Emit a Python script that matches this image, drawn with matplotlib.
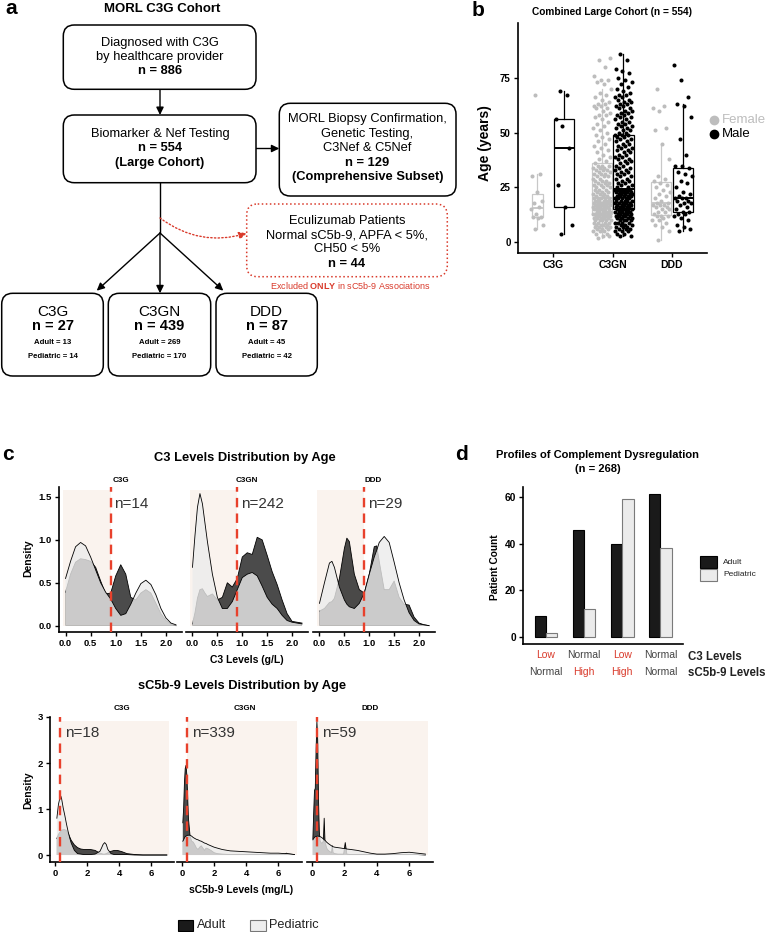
import numpy as np
import matplotlib
matplotlib.use('Agg')
import matplotlib.pyplot as plt
from matplotlib.patches import FancyBboxPatch, Rectangle

plt.rcParams['font.family'] = ['Liberation Sans', 'DejaVu Sans']
plt.rcParams['mathtext.fontset'] = 'custom'
plt.rcParams['mathtext.rm'] = 'Liberation Sans'
plt.rcParams['mathtext.bf'] = 'Liberation Sans:bold'

# ======================= DATA =======================
# Panel a (flowchart)
flow_top_n = 886
flow_large_n = 554
flow_subset_n = 129
flow_ecu_n = 44
subtypes = ['C3G', 'C3GN', 'DDD']
subtype_n = [27, 439, 87]
subtype_adult = [13, 269, 45]
subtype_ped = [14, 170, 42]

# Panel b (ages, years)
c3g_female = [6, 8, 11, 11.5, 11.5, 13, 15, 16, 18, 19, 23, 30, 31, 67]
c3g_male = [4, 8, 16, 26, 43, 53, 56, 67, 69]
c3gn_female = [2, 3, 3, 4, 4, 5, 5, 5, 6, 6, 6, 7, 7, 7, 7, 8, 8, 8, 8, 9, 9, 9, 9, 10, 10, 10, 10, 10,
               11, 11, 11, 11, 11, 12, 12, 12, 12, 12, 12, 13, 13, 13, 13, 13, 13,
               13, 14, 14, 14, 14, 14, 14, 15, 15, 15, 15, 15, 15, 15, 16, 16, 16, 16, 16, 16,
               17, 17, 17, 17, 17, 17, 17, 18, 18, 18, 18, 18, 18, 18, 19, 19, 19, 19, 19, 19, 19, 20, 20, 20, 20,
               20, 21, 21, 21, 22, 22, 22, 23, 23, 23, 24, 24, 24, 25, 25, 25, 26, 26, 26, 27, 27, 27,
               28, 28, 28, 29, 29, 30, 30, 30, 31, 31, 31, 32, 32, 33, 33, 33, 34, 34, 34, 35, 35, 35, 36,
               37, 38, 39, 40, 41, 42, 43, 44, 45, 46, 47, 48, 49, 50, 51, 52, 53, 54, 55, 56, 57, 58, 58,
               59, 60, 61, 61, 62, 62, 63, 63, 64, 65, 66, 67, 68, 70, 72, 73, 74, 74, 76, 80, 83, 84]
c3gn_male = [3, 3, 4, 4, 5, 5, 5, 6, 6, 6, 7, 7, 7, 8, 8, 8, 9, 9, 9, 9, 10, 10, 10, 10, 11, 11, 11, 11,
             12, 12, 12, 12, 12, 13, 13, 13, 13, 13, 14, 14, 14, 14, 14, 14, 15, 15, 15, 15, 15, 15,
             15, 16, 16, 16, 16, 16, 17, 17, 17, 17, 17, 18, 18, 18, 18, 18, 19, 19, 19, 19, 19,
             20, 20, 20, 20, 20, 21, 21, 21, 21, 21, 22, 22, 22, 22, 22, 23, 23, 23, 23, 23, 23,
             24, 24, 24, 24, 24, 24, 24, 24,
             25, 25, 26, 26, 27, 27, 28, 28, 29, 29, 30, 30, 31, 31, 32, 32, 33, 33, 34, 34, 35, 35,
             36, 36, 37, 37, 38, 38, 39, 39, 40, 40, 41, 41, 42, 42, 43, 43, 44, 44, 45, 45, 46, 46,
             47, 47, 48, 48, 49, 49,
             49, 50, 50, 51, 51, 52, 52, 53, 53, 54, 54, 55, 55, 56, 56, 57, 57, 58, 58, 59, 59, 60, 60,
             61, 61, 62, 62, 63, 63, 64, 64, 65, 65, 66, 66, 67, 67, 68, 69, 70, 71, 72, 73, 74, 75,
             77, 78, 79, 83, 86]
ddd_female = [1, 5, 7, 8, 9, 10, 10, 11, 12, 12, 12, 13, 14, 14, 15, 15, 16, 16, 17, 17, 17, 18, 18,
              19, 20, 21, 22, 23, 24, 25, 26, 27, 28, 29, 30, 38, 45, 51, 52, 60, 61, 62, 70]
ddd_male = [5, 6, 7, 8, 10, 11, 12, 13, 13, 14, 14, 15, 16, 17, 18, 18, 19, 19, 20, 20, 20, 21, 22,
            23, 25, 27, 28, 30, 31, 32, 34, 35, 35, 40, 47, 57, 62, 63, 66, 74, 81]

# Panel c, C3 densities (x in g/L, density)
c3_n = [14, 242, 29]
c3g_x = [0.0, 0.1, 0.2, 0.3, 0.4, 0.5, 0.6, 0.7, 0.8, 0.9, 1.0, 1.1, 1.2, 1.3, 1.4, 1.5, 1.6, 1.7,
         1.8, 1.9, 2.0, 2.1, 2.2]
c3g_adult = [0.39, 0.6, 0.74, 0.78, 0.77, 0.75, 0.68, 0.52, 0.37, 0.38, 0.58, 0.71, 0.6, 0.33,
             0.3, 0.38, 0.42, 0.38, 0.26, 0.14, 0.06, 0.02, 0.0]
c3g_ped = [0.55, 0.75, 0.92, 0.97, 0.93, 0.8, 0.65, 0.5, 0.39, 0.31, 0.2, 0.12, 0.14, 0.25,
           0.38, 0.49, 0.53, 0.48, 0.36, 0.2, 0.09, 0.03, 0.01]
c3gn_x = [0.0, 0.05, 0.1, 0.15, 0.2, 0.25, 0.3, 0.4, 0.5, 0.6, 0.7, 0.8, 0.9, 1.0, 1.1, 1.2, 1.3,
          1.4, 1.5, 1.6, 1.7, 1.8, 1.9, 2.0, 2.1, 2.2]
c3gn_adult = [0.02, 0.15, 0.32, 0.42, 0.43, 0.38, 0.34, 0.37, 0.3, 0.33, 0.5, 0.45, 0.55, 0.8,
              0.85, 0.83, 1.03, 1.0, 0.82, 0.63, 0.48, 0.3, 0.14, 0.05, 0.04, 0.03]
c3gn_ped = [0.68, 1.05, 1.38, 1.54, 1.42, 1.2, 0.98, 0.6, 0.33, 0.2, 0.2, 0.28, 0.42, 0.56, 0.6,
            0.62, 0.58, 0.46, 0.33, 0.25, 0.2, 0.12, 0.06, 0.04, 0.03, 0.02]
ddd_x = [0.0, 0.1, 0.2, 0.25, 0.3, 0.4, 0.5, 0.55, 0.6, 0.7, 0.8, 0.9, 1.0, 1.1, 1.15, 1.2, 1.3,
         1.4, 1.5, 1.6, 1.7, 1.8, 1.9, 2.0, 2.1, 2.2]
ddd_adult = [0.17, 0.2, 0.27, 0.28, 0.32, 0.55, 0.9, 1.02, 0.98, 0.6, 0.42, 0.38, 0.6, 0.92, 0.93,
             0.75, 0.42, 0.42, 0.52, 0.33, 0.25, 0.24, 0.1, 0.03, 0.01, 0.0]
ddd_ped = [0.26, 0.5, 0.73, 0.75, 0.68, 0.45, 0.3, 0.25, 0.22, 0.2, 0.26, 0.38, 0.6, 0.8, 0.88,
           0.97, 1.04, 0.97, 0.74, 0.5, 0.3, 0.15, 0.06, 0.02, 0.01, 0.0]

# Panel c, sC5b-9 densities (x in mg/L)
sc_n = [18, 339, 59]
sc_c3g_x = [0.1, 0.2, 0.3, 0.35, 0.4, 0.5, 0.6, 0.7, 0.8, 0.9, 1.0, 1.2, 1.4, 1.6, 1.8, 2.0, 2.2,
            2.5, 2.8, 2.9, 3.0, 3.1, 3.2, 3.3, 3.5, 3.7, 3.9, 4.2, 4.5, 5.0, 5.5, 6.0, 6.5, 7.0]
sc_c3g_adult = [0.36, 0.45, 0.5, 0.52, 0.54, 0.55, 0.55, 0.53, 0.48, 0.4, 0.32, 0.22, 0.16, 0.13,
                0.12, 0.12, 0.12, 0.1, 0.04, 0.03, 0.02, 0.02, 0.03, 0.05, 0.08, 0.1, 0.1, 0.07,
                0.03, 0.01, 0.0, 0.0, 0.0, 0.0]
sc_c3g_ped = [0.8, 1.1, 1.26, 1.28, 1.22, 1.02, 0.86, 0.68, 0.52, 0.38, 0.26, 0.1, 0.03, 0.02,
              0.01, 0.01, 0.01, 0.02, 0.08, 0.15, 0.23, 0.27, 0.23, 0.12, 0.03, 0.01, 0.01, 0.01,
              0.01, 0.0, 0.0, 0.0, 0.0, 0.0]
sc_c3gn_x = [0.05, 0.1, 0.15, 0.2, 0.25, 0.3, 0.35, 0.4, 0.5, 0.6, 0.7, 0.8, 0.9, 1.0, 1.1, 1.2,
             1.3, 1.4, 1.5, 1.6, 1.8, 2.0, 2.2, 2.5, 3.0, 3.5, 4.0, 4.5, 5.0, 5.5, 6.0, 6.4, 6.5,
             6.6, 7.0]
sc_c3gn_adult = [0.7, 1.0, 1.55, 1.88, 1.95, 1.75, 1.3, 0.8, 0.42, 0.3, 0.28, 0.22, 0.15, 0.12,
                 0.17, 0.2, 0.15, 0.1, 0.15, 0.14, 0.1, 0.05, 0.03, 0.02, 0.01, 0.01, 0.01, 0.01,
                 0.01, 0.01, 0.01, 0.02, 0.04, 0.02, 0.01]
sc_c3gn_ped = [0.3, 0.33, 0.37, 0.4, 0.41, 0.42, 0.43, 0.43, 0.43, 0.41, 0.38, 0.36, 0.34, 0.33,
               0.31, 0.3, 0.28, 0.26, 0.25, 0.23, 0.2, 0.17, 0.15, 0.12, 0.09, 0.08, 0.07, 0.06,
               0.05, 0.04, 0.04, 0.03, 0.03, 0.03, 0.01]
sc_ddd_x = [0.05, 0.1, 0.15, 0.2, 0.25, 0.3, 0.35, 0.4, 0.45, 0.5, 0.6, 0.7, 0.75, 0.8, 0.9, 1.0,
            1.2, 1.25, 1.3, 1.4, 1.6, 1.8, 1.95, 2.05, 2.15, 2.4, 2.8, 3.2, 3.6, 4.0, 4.5, 5.0,
            5.5, 6.0, 6.5, 7.0]
sc_ddd_adult = [0.35, 0.9, 1.4, 1.45, 2.3, 2.9, 2.5, 1.2, 0.5, 0.3, 0.25, 0.3, 0.8, 0.3, 0.15,
                0.1, 0.05, 0.2, 0.05, 0.03, 0.02, 0.02, 0.02, 0.27, 0.02, 0.01, 0.01, 0.01, 0.01,
                0.01, 0.01, 0.01, 0.01, 0.01, 0.01, 0.0]
sc_ddd_ped = [0.33, 0.36, 0.38, 0.4, 0.4, 0.41, 0.41, 0.41, 0.4, 0.4, 0.38, 0.35, 0.33, 0.32,
              0.28, 0.25, 0.2, 0.19, 0.18, 0.17, 0.16, 0.15, 0.14, 0.14, 0.13, 0.12, 0.1, 0.07,
              0.04, 0.02, 0.02, 0.03, 0.05, 0.06, 0.04, 0.02]
c3_threshold = 0.9
sc_threshold = 0.3

# Panel d
profile_c3 = ['Low', 'Normal', 'Low', 'Normal']
profile_sc = ['Normal', 'High', 'High', 'Normal']
adult_counts = [9, 46, 40, 61]
ped_counts = [2, 12, 59, 38]

# ======================= FIGURE =======================
W, H = 768, 932
fig = plt.figure(figsize=(W / 100, H / 100), dpi=100)


def px_axes(x0, y0, x1, y1):
    ax = fig.add_axes([x0 / W, 1 - y1 / H, (x1 - x0) / W, (y1 - y0) / H])
    ax.set_facecolor('none')
    return ax


ov = fig.add_axes([0, 0, 1, 1])
ov.set_xlim(0, W)
ov.set_ylim(H, 0)
ov.axis('off')

RED = '#d93a2b'


def T(x, y, s, **kw):
    kw.setdefault('ha', 'center')
    kw.setdefault('va', 'center')
    ov.text(x, y, s, **kw)


def rbox(x0, y0, x1, y1, ec='black', ls='-', lw=1.1, r=11):
    ov.add_patch(FancyBboxPatch((x0, y0), x1 - x0, y1 - y0,
                                boxstyle=f"round,pad=0,rounding_size={r}",
                                fc='white', ec=ec, lw=lw, ls=ls, zorder=2))


def arrow(p0, p1, color='black', ls='-', rad=0.0):
    ov.annotate('', xy=p1, xytext=p0,
                arrowprops=dict(arrowstyle='-|>,head_length=0.45,head_width=0.22',
                                mutation_scale=10, lw=1.0, color=color, ls=ls,
                                shrinkA=0, shrinkB=0,
                                connectionstyle=f'arc3,rad={rad}'), zorder=1)


# ---------------- panel a ----------------
T(11, 9, 'a', fontsize=15, fontweight='bold')
T(161.7, 9, 'MORL C3G Cohort', fontsize=9.5, fontweight='bold')
FS = 9.3
rbox(63.3, 25, 256, 89.3)
T(160, 43.3, 'Diagnosed with C3G', fontsize=FS)
T(160, 57.3, 'by healthcare provider', fontsize=FS)
T(160, 71, f'n = {flow_top_n}', fontsize=FS, fontweight='bold')
arrow((160, 89.3), (160, 115))
rbox(63.3, 115, 256, 182.7)
T(160, 134, 'Biomarker & Nef Testing', fontsize=FS)
T(160, 148.3, f'n = {flow_large_n}', fontsize=FS, fontweight='bold')
T(160, 163.3, '(Large Cohort)', fontsize=FS, fontweight='bold')
arrow((256, 148.5), (279.3, 148.5))
rbox(279.3, 103.3, 456, 196)
T(367.5, 119, 'MORL Biopsy Confirmation,', fontsize=FS)
T(367.5, 134, 'Genetic Testing,', fontsize=FS)
T(367.5, 148.3, 'C3Nef & C5Nef', fontsize=FS)
T(367.5, 162.7, f'n = {flow_subset_n}', fontsize=FS, fontweight='bold')
T(367.5, 176.7, '(Comprehensive Subset)', fontsize=FS, fontweight='bold')
ov.plot([160, 160], [182.7, 233], color='black', lw=1.0, zorder=1)
arrow((160, 233), (96.7, 290.7))
arrow((160, 233), (160, 293.3))
arrow((160, 233), (223.3, 290.7))
arrow((160, 218), (246.7, 233.3), color=RED, ls=':', rad=0.25)
rbox(246.7, 204, 447.3, 276.7, ec=RED, ls=':', lw=1.1)
T(347, 220.7, 'Eculizumab Patients', fontsize=FS)
T(347, 235, 'Normal sC5b-9, APFA < 5%,', fontsize=FS)
T(347, 249.5, 'CH50 < 5%', fontsize=FS)
T(347, 264, f'n = {flow_ecu_n}', fontsize=FS, fontweight='bold')
T(350, 285.7, r'Excluded $\mathbf{ONLY}$ in sC5b-9 Associations', fontsize=6.5, color=RED)
box_x = [(1.7, 103.3), (108.3, 210.7), (216, 317.3)]
for (x0, x1), name, n, na, npd in zip(box_x, subtypes, subtype_n, subtype_adult, subtype_ped):
    rbox(x0, 293.3, x1, 376)
    cx = (x0 + x1) / 2
    T(cx, 311.7, name, fontsize=11)
    T(cx, 326.3, f'n = {n}', fontsize=10.5, fontweight='bold')
    T(cx, 342.3, f'Adult = {na}', fontsize=5.6, fontweight='bold')
    T(cx, 356.7, f'Pediatric = {npd}', fontsize=5.6, fontweight='bold')

# ---------------- panel b ----------------
T(478, 10, 'b', fontsize=15, fontweight='bold')
T(611.7, 12, 'Combined Large Cohort (n = 554)', fontsize=7.3, fontweight='bold')
axb = px_axes(517.7, 23.3, 706.7, 253.3)
FEM, MAL = '#bdbdbd', '#000000'
fem_groups = [c3g_female, c3gn_female, ddd_female]
mal_groups = [c3g_male, c3gn_male, ddd_male]
fem_off = [-0.27, -0.183, -0.183]
fem_w = [0.18, 0.345, 0.345]
fem_jit = [0.11, 0.15, 0.15]
for i in range(3):
    for ages, off, w, jw, col, bcol in [
        (fem_groups[i], fem_off[i], fem_w[i], fem_jit[i], FEM, '#c8c8c8'),
        (mal_groups[i], 0.183, 0.34, 0.15, MAL, '#000000')]:
        pos = i + 1 + off
        axb.boxplot(ages, positions=[pos], widths=w, whis=1.5, showfliers=False,
                    showcaps=False, patch_artist=True, manage_ticks=False,
                    boxprops=dict(facecolor='none', edgecolor=bcol, lw=0.9),
                    medianprops=dict(color=bcol, lw=1.4),
                    whiskerprops=dict(color=bcol, lw=0.9), zorder=2)
        a = np.asarray(ages, float)
        jit = (np.modf(np.arange(len(a)) * 0.6180339887 + 0.31)[0] - 0.5) * 2 * jw
        axb.scatter(pos + jit, a, s=8.5, color=col, lw=0, zorder=3)
axb.set_xlim(0.40, 3.587)
axb.set_ylim(-5.0, 99.8)
axb.set_xticks([1, 2, 3])
axb.set_xticklabels(subtypes, fontsize=7.5, fontweight='bold')
axb.set_yticks([0, 25, 50, 75])
axb.set_yticklabels(['0', '25', '50', '75'], fontsize=7, fontweight='bold')
for s in ['top', 'right']:
    axb.spines[s].set_visible(False)
for s in ['left', 'bottom']:
    axb.spines[s].set_linewidth(1.2)
axb.tick_params(length=3, width=1, pad=2)
T(485, 143, 'Age (years)', fontsize=10, fontweight='bold', rotation=90)
ov.plot([714.3], [120], 'o', ms=6, color=FEM)
ov.plot([714.3], [134.3], 'o', ms=6, color=MAL)
T(721.5, 120, 'Female', fontsize=9.5, color=FEM, ha='left')
T(721.5, 134.3, 'Male', fontsize=9.5, color=MAL, ha='left')

# ---------------- panel c ----------------
ADULT_FC, PED_FC = '#1e1e1e', '#ececec'
SHADE = '#faf3ee'


def density_facet(rect, xs, ad, pe, xlim, ylim, shade_x, shade_top, thr, nlab, nxy,
                  xticks, xtl, first, yticks, ytl):
    ax = px_axes(*rect)
    ax.add_patch(Rectangle((shade_x[0], 0), shade_x[1] - shade_x[0], shade_top,
                           fc=SHADE, ec='none', zorder=0))
    ax.fill_between(xs, 0, ad, fc=ADULT_FC, alpha=0.8, lw=0, zorder=1)
    ax.plot(xs, ad, color='black', lw=0.6, zorder=1.5)
    ax.fill_between(xs, 0, pe, fc=PED_FC, alpha=0.8, lw=0, zorder=2)
    ax.plot(xs, pe, color='black', lw=0.6, zorder=2.5)
    ax.axvline(thr, color='#e8412c', lw=1.7, ls=(0, (4, 2.6)), zorder=4)
    ax.text(nxy[0], nxy[1], nlab, fontsize=11, color='#333333', ha='left', va='center', zorder=5)
    ax.set_xlim(*xlim)
    ax.set_ylim(*ylim)
    ax.set_xticks(xticks)
    ax.set_xticklabels(xtl, fontsize=6.8, fontweight='bold')
    for s in ['top', 'right']:
        ax.spines[s].set_visible(False)
    ax.spines['bottom'].set_linewidth(1.2)
    ax.spines['left'].set_linewidth(1.2)
    if first:
        ax.set_yticks(yticks)
        ax.set_yticklabels(ytl, fontsize=6.8, fontweight='bold')
    else:
        ax.spines['left'].set_visible(False)
        ax.set_yticks([])
    ax.tick_params(length=3, width=1, pad=2)
    return ax


T(8, 455, 'c', fontsize=15, fontweight='bold')
T(245, 458, 'C3 Levels Distribution by Age', fontsize=9.3, fontweight='bold')
c3_rects = [(59, 486.7, 182, 632), (186, 486.7, 308, 632), (313, 486.7, 435, 632)]
c3_sets = [(c3g_x, c3g_adult, c3g_ped), (c3gn_x, c3gn_adult, c3gn_ped), (ddd_x, ddd_adult, ddd_ped)]
c3_strip_x = [120.5, 247, 373]
for k in range(3):
    xs, ad, pe = c3_sets[k]
    density_facet(c3_rects[k], xs, ad, pe, (-0.13, 2.32), (-0.074, 1.62), (-0.05, c3_threshold),
                  1.58, c3_threshold, f'n={c3_n[k]}', (0.97, 1.42),
                  [0, 0.5, 1, 1.5, 2], ['0.0', '0.5', '1.0', '1.5', '2.0'], k == 0,
                  [0, 0.5, 1, 1.5], ['0.0', '0.5', '1.0', '1.5'])
    T(c3_strip_x[k], 480, subtypes[k], fontsize=5.8, fontweight='bold')
T(28, 558, 'Density', fontsize=7.5, fontweight='bold', rotation=90)
T(247, 660, 'C3 Levels (g/L)', fontsize=7.5, fontweight='bold')

T(241.7, 686, 'sC5b-9 Levels Distribution by Age', fontsize=9.3, fontweight='bold')
sc_rects = [(50, 717, 174, 862), (176.7, 717, 301.7, 862), (306.7, 717, 432.7, 862)]
sc_sets = [(sc_c3g_x, sc_c3g_adult, sc_c3g_ped), (sc_c3gn_x, sc_c3gn_adult, sc_c3gn_ped),
           (sc_ddd_x, sc_ddd_adult, sc_ddd_ped)]
sc_strip_x = [121.7, 245, 370]
for k in range(3):
    xs, ad, pe = sc_sets[k]
    density_facet(sc_rects[k], xs, ad, pe, (-0.33, 7.45), (-0.152, 3.0), (sc_threshold, 7.15),
                  2.92, sc_threshold, f'n={sc_n[k]}', (0.62, 2.65),
                  [0, 2, 4, 6], ['0', '2', '4', '6'], k == 0, [0, 1, 2, 3], ['0', '1', '2', '3'])
    T(sc_strip_x[k], 709, subtypes[k], fontsize=5.8, fontweight='bold')
T(28, 790, 'Density', fontsize=7.5, fontweight='bold', rotation=90)
T(241, 890, 'sC5b-9 Levels (mg/L)', fontsize=7.5, fontweight='bold')

ov.add_patch(Rectangle((177.7, 920), 15, 10.7, fc='#1a1a1a', ec='black', lw=0.8))
T(196.5, 925.5, 'Adult', fontsize=9.2, ha='left', color='#222222')
ov.add_patch(Rectangle((250, 920), 15.7, 10.7, fc='#eeeeee', ec='#777777', lw=0.8))
T(269.5, 925.5, 'Pediatric', fontsize=9.2, ha='left', color='#222222')

# ---------------- panel d ----------------
T(461, 455, 'd', fontsize=15, fontweight='bold')
T(598, 455, 'Profiles of Complement Dysregulation', fontsize=8, fontweight='bold')
T(598, 469, '(n = 268)', fontsize=8, fontweight='bold')
axd = px_axes(522.7, 486.7, 683.3, 644)
gx = np.arange(1, len(adult_counts) + 1)
axd.bar(gx - 0.148, adult_counts, width=0.295, color='#1a1a1a', edgecolor='black', lw=0.8)
axd.bar(gx + 0.148, ped_counts, width=0.295, color='#ebebeb', edgecolor='#7a7a7a', lw=0.8)
axd.set_xlim(0.39, 4.6)
axd.set_ylim(-2.85, 64.3)
axd.set_xticks([])
axd.set_yticks([0, 20, 40, 60])
axd.set_yticklabels(['0', '20', '40', '60'], fontsize=7.3, fontweight='bold')
for s in ['top', 'right']:
    axd.spines[s].set_visible(False)
for s in ['left', 'bottom']:
    axd.spines[s].set_linewidth(1.2)
axd.tick_params(length=3, width=1, pad=2)
tr = axd.get_xaxis_transform()
for i, (a, b) in enumerate(zip(profile_c3, profile_sc)):
    ca = RED if a != 'Normal' else '#444444'
    cb = RED if b != 'Normal' else '#444444'
    axd.text(gx[i], -0.072, a, transform=tr, ha='center', va='center', fontsize=7.5, color=ca)
    axd.text(gx[i], -0.18, b, transform=tr, ha='center', va='center', fontsize=7.5, color=cb)
T(688, 657, 'C3 Levels', fontsize=8.3, fontweight='bold', ha='left', color='#222222')
T(688, 673, 'sC5b-9 Levels', fontsize=8.3, fontweight='bold', ha='left', color='#222222')
T(495, 567, 'Patient Count', fontsize=7.3, fontweight='bold', rotation=90)
ov.add_patch(Rectangle((700, 556), 16.7, 11.7, fc='#1a1a1a', ec='black', lw=0.8))
ov.add_patch(Rectangle((700, 569.3), 16.7, 11.4, fc='#ebebeb', ec='#7a7a7a', lw=0.8))
T(723, 562, 'Adult', fontsize=6, ha='left', color='#222222')
T(723, 575, 'Pediatric', fontsize=6, ha='left', color='#222222')

fig.savefig('out.png', dpi=100)
